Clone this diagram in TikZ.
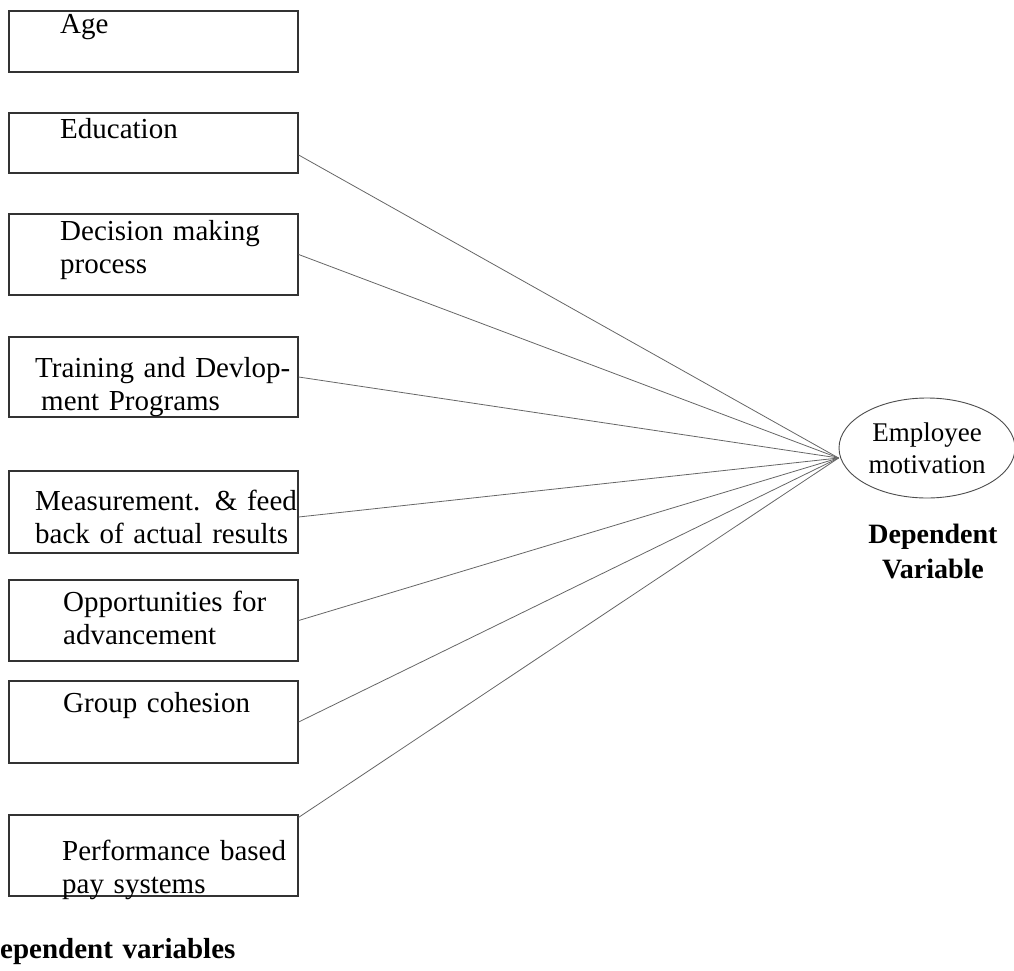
\documentclass[tikz,border=0pt]{standalone}
\usepackage{fontspec}
\setmainfont{Liberation Serif}
\usetikzlibrary{shapes.geometric}
\tikzset{
  varbox/.style={draw=black!80, line width=1.3pt, minimum width=289pt, inner sep=0pt},
  vartext/.style={anchor=base west, inner sep=0pt, text width=275pt, align=left,
    font=\fontsize{29}{33}\selectfont},
  link/.style={draw=black!60, line width=0.8pt},
}
\begin{document}
\begin{tikzpicture}[x=1pt, y=-1pt]
        \useasboundingbox (0,0) rectangle (1014,971);
        % independent variables
        \node[varbox, minimum height=61pt] (age) at (153.5, 41.5) {};
        \node[varbox, minimum height=60pt] (edu) at (153.5, 143) {};
        \node[varbox, minimum height=81pt] (dec) at (153.5, 254.5) {};
        \node[varbox, minimum height=80pt] (train) at (153.5, 377) {};
        \node[varbox, minimum height=82pt] (meas) at (153.5, 512) {};
        \node[varbox, minimum height=81pt] (opp) at (153.5, 620.5) {};
        \node[varbox, minimum height=82pt] (grp) at (153.5, 722) {};
        \node[varbox, minimum height=81pt] (perf) at (153.5, 855.5) {};
        \node[vartext] (age-t) at (60, 34) {Age};
        \node[vartext] (edu-t) at (60, 139) {Education};
        \node[vartext] (dec-t) at (60, 240) {Decision making\\process};
        \node[vartext] (train-t) at (35, 377) {Training and Devlop-\\\hspace*{6pt}ment Programs};
        \node[vartext] (meas-t) at (35, 510) {Measurement. \& feed\\back of actual results};
        \node[vartext] (opp-t) at (63, 611) {Opportunities for\\advancement};
        \node[vartext] (grp-t) at (63, 712) {Group cohesion};
        \node[vartext] (perf-t) at (62, 860) {Performance based\\pay systems};
        \node[vartext, font=\fontsize{29}{33}\selectfont\bfseries] (indep) at (0, 958) {ependent variables};
        % dependent variable
        \node[ellipse, draw=black!70, line width=0.9pt, minimum width=176pt, minimum height=100pt,
          inner sep=0pt, align=center, font=\fontsize{27}{32}\selectfont] (emp) at (927, 448) {Employee\\motivation};
        \node[anchor=base, inner sep=0pt, text width=160pt, align=center,
          font=\fontsize{28}{35}\selectfont\bfseries] (dep) at (933, 543) {Dependent\\Variable};
        \coordinate (hub) at ([yshift=-10pt]emp.west);
        \draw[link] ([yshift=-12pt]edu.east) -- (hub);
        \draw[link] (dec.east) -- (hub);
        \draw[link] (train.east) -- (hub);
        \draw[link] ([yshift=-5pt]meas.east) -- (hub);
        \draw[link] (opp.east) -- (hub);
        \draw[link] (grp.east) -- (hub);
        \draw[link] ([yshift=-3pt]perf.north east) -- (hub);
        \end{tikzpicture}
\end{document}
